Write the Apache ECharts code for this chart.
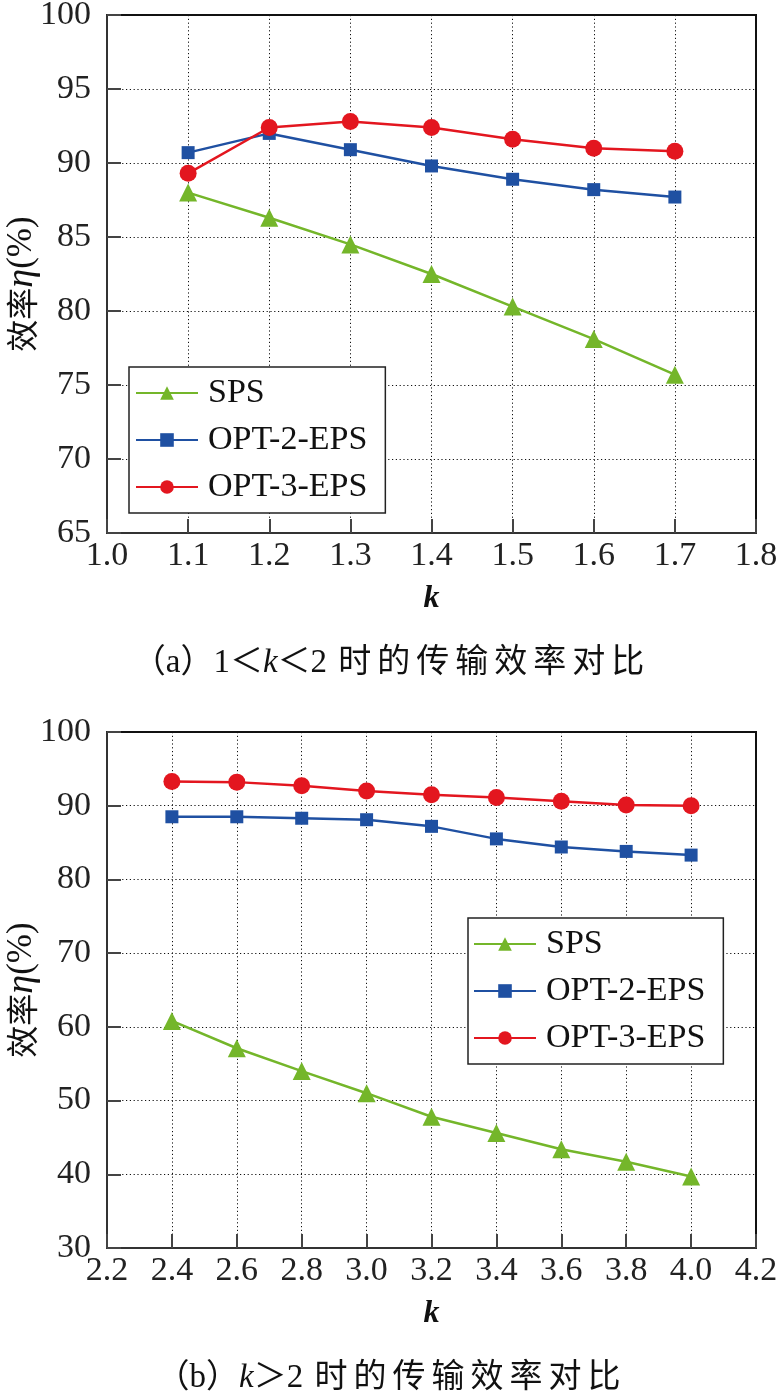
<!DOCTYPE html>
<html>
<head>
<meta charset="utf-8">
<script src="https://cdn.jsdelivr.net/npm/echarts@6/dist/echarts.min.js"></script>
<style>
html,body{margin:0;padding:0;background:#fff;}
#chart{width:780px;height:1396px;}
</style>
</head>
<body>
<div id="chart"></div>
<script>
// ---- Data ----
const seriesNames = ['SPS', 'OPT-2-EPS', 'OPT-3-EPS'];

// (a) 1 < k < 2
const kA = [1.1, 1.2, 1.3, 1.4, 1.5, 1.6, 1.7];
const spsA  = [88.0, 86.3, 84.5, 82.5, 80.3, 78.1, 75.7];
const opt2A = [90.7, 92.0, 90.9, 89.8, 88.9, 88.2, 87.7];
const opt3A = [89.3, 92.4, 92.8, 92.4, 91.6, 91.0, 90.8];

// (b) k > 2
const kB = [2.4, 2.6, 2.8, 3.0, 3.2, 3.4, 3.6, 3.8, 4.0];
const spsB  = [60.8, 57.1, 54.0, 51.0, 47.8, 45.6, 43.4, 41.7, 39.7];
const opt2B = [88.5, 88.5, 88.3, 88.1, 87.2, 85.5, 84.4, 83.8, 83.3];
const opt3B = [93.3, 93.2, 92.7, 92.0, 91.5, 91.1, 90.6, 90.1, 90.0];

// axis ranges / tick labels
const xRangeA = {min: 1.0, max: 1.8, interval: 0.1};
const yRangeA = {min: 65, max: 100, interval: 5};
const xRangeB = {min: 2.2, max: 4.2, interval: 0.2};
const yRangeB = {min: 30, max: 100, interval: 10};

const captionA = ['（a）', '1', '＜', 'k', '＜', '2', ' ', '时', '的', '传', '输', '效', '率', '对', '比'];
const captionB = ['（b）', 'k', '＞', '2', ' ', '时', '的', '传', '输', '效', '率', '对', '比'];

// ---- Styles ----
const FONT = "'Liberation Serif', 'Noto Sans CJK SC', serif";
const colors = ['#74b62a', '#1f50a2', '#e3161f'];
const symbols = ['triangle', 'rect', 'circle'];
const symbolSizes = [18, 13, 17];

const chart = echarts.init(document.getElementById('chart'), null, {renderer: 'canvas'});

function xAxis(gi, r) {
  return {
    type: 'value', gridIndex: gi, min: r.min, max: r.max, interval: r.interval,
    name: 'k', nameLocation: 'middle', nameGap: 50, nameMoveOverlap: false,
    nameTextStyle: {fontFamily: FONT, fontSize: 32, fontStyle: 'italic', fontWeight: 'bold', color: '#111'},
    axisLine: {show: true, lineStyle: {color: '#333', width: 2}},
    axisTick: {show: true, inside: true, length: 14, lineStyle: {color: '#444', width: 2}},
    axisLabel: {fontFamily: FONT, fontSize: 34, color: '#222', margin: 6,
      formatter: v => v.toFixed(1)},
    splitLine: {show: true, lineStyle: {color: '#111', width: 1, type: [1.2, 2.6]}}
  };
}
function yAxis(gi, r, shift) {
  return {
    type: 'value', gridIndex: gi, min: r.min, max: r.max, interval: r.interval,
    name: '{c|效率}{e|η}{p|(%)}', nameLocation: 'middle', nameGap: 66, nameRotate: 90,
    nameMoveOverlap: false,
    nameTextStyle: {
      padding: [0, shift, 0, 0],
      rich: {
        c: {fontFamily: "'Noto Sans CJK SC'", fontSize: 32, color: '#111'},
        e: {fontFamily: FONT, fontSize: 38, fontStyle: 'italic', color: '#111'},
        p: {fontFamily: FONT, fontSize: 35, color: '#111'}
      }
    },
    axisLine: {show: true, lineStyle: {color: '#333', width: 2}},
    axisTick: {show: true, inside: true, length: 14, lineStyle: {color: '#444', width: 2}},
    axisLabel: {fontFamily: FONT, fontSize: 34, color: '#222', margin: 16},
    splitLine: {show: true, lineStyle: {color: '#111', width: 1, type: [1.2, 2.6]}}
  };
}
function mkSeries(gi, ks, vals, idx) {
  return {
    name: seriesNames[idx], type: 'line', xAxisIndex: gi, yAxisIndex: gi,
    data: ks.map((k, i) => [k, vals[i]]),
    symbol: symbols[idx], symbolSize: symbolSizes[idx],
    lineStyle: {color: colors[idx], width: 2.5},
    itemStyle: {color: colors[idx]},
    z: 3 + idx, animation: false
  };
}
function legend(left, top, padding) {
  return {
    orient: 'vertical', left: left, top: top, padding: padding, itemGap: 13,
    itemWidth: 62, itemHeight: 17,
    data: seriesNames,
    backgroundColor: '#fff', borderColor: '#222', borderWidth: 1.5,
    textStyle: {fontFamily: FONT, fontSize: 34, color: '#111', padding: [0, 0, 0, 5]},
    selectedMode: false
  };
}
function caption(parts, y, italicIdx) {
  const keys = parts.map((p, i) => italicIdx.includes(i) ? 'i' : (p.length === 1 && /[\u4e00-\u9fff]/.test(p) ? 'h' : 'n'));
  return {
    type: 'text', x: 390, y: y, z: 10,
    style: {
      text: parts.map((p, i) => '{' + keys[i] + '|' + p + '}').join(''),
      textAlign: 'center', textVerticalAlign: 'middle',
      rich: {
        n: {fontFamily: FONT, fontSize: 33, fill: '#111'},
        h: {fontFamily: FONT, fontSize: 33, fill: '#111', padding: [0, 3, 0, 3]},
        i: {fontFamily: FONT, fontSize: 33, fontStyle: 'italic', fill: '#111'}
      }
    }
  };
}

const gridBase = {show: true, borderColor: '#111', borderWidth: 2, backgroundColor: 'transparent',
  containLabel: false, outerBoundsMode: 'none'};

const option = {
  backgroundColor: '#fff',
  animation: false,
  grid: [
    Object.assign({left: 107, top: 15, width: 649, height: 518}, gridBase),
    Object.assign({left: 107, top: 732, width: 649, height: 516}, gridBase)
  ],
  xAxis: [xAxis(0, xRangeA), xAxis(1, xRangeB)],
  yAxis: [yAxis(0, yRangeA, 20), yAxis(1, yRangeB, 0)],
  legend: [legend(129, 367, [9, 18, 9, 6]), legend(468, 918, [9, 18, 9, 5])],
  series: [
    mkSeries(0, kA, spsA, 0), mkSeries(0, kA, opt2A, 1), mkSeries(0, kA, opt3A, 2),
    mkSeries(1, kB, spsB, 0), mkSeries(1, kB, opt2B, 1), mkSeries(1, kB, opt3B, 2)
  ],
  graphic: [caption(captionA, 663, [3]), caption(captionB, 1378, [1])]
};
chart.setOption(option);
</script>
</body>
</html>
